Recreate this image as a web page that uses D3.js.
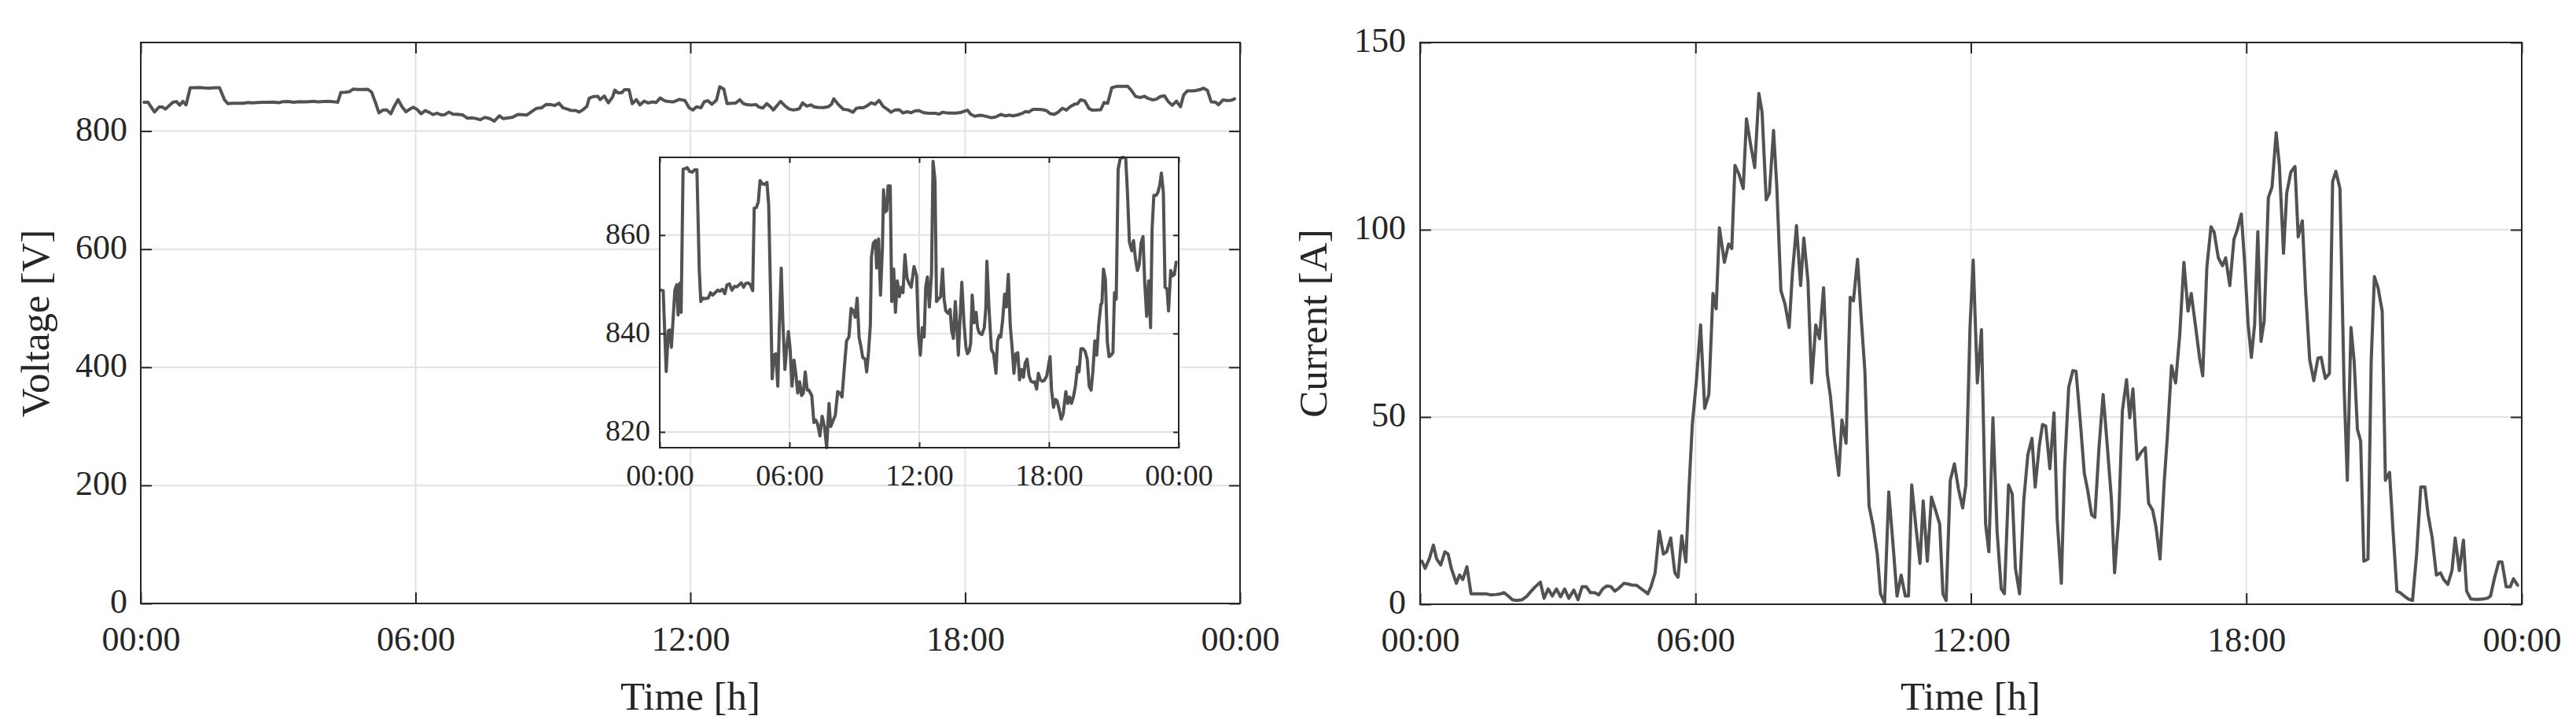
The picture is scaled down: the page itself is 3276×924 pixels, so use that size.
<!DOCTYPE html>
<html>
<head>
<meta charset="utf-8">
<script src="https://cdn.jsdelivr.net/npm/d3@7"></script>
<style>
  html, body { margin: 0; padding: 0; background: #fff; }
  svg { display: block; }
  text { font-family: "Liberation Serif", "DejaVu Serif", serif; fill: #262626; }
</style>
</head>
<body>
<svg id="chart" width="3276" height="924"></svg>
<script>
// ---------------- data ----------------
const timeTicks = [0, 6, 12, 18, 24];
const timeTickLabels = ["00:00", "06:00", "12:00", "18:00", "00:00"];
const voltageTicks = [0, 200, 400, 600, 800];
const voltageInsetTicks = [820, 840, 860];
const currentTicks = [0, 50, 100, 150];
const voltageDomain = [0, 950];
const currentDomain = [0, 150];

const voltageTime = [0.07,0.16,0.30,0.40,0.47,0.54,0.70,0.78,0.85,0.92,
0.99,1.08,1.17,1.27,1.39,1.51,1.62,1.72,1.83,1.90,
2.00,2.12,2.24,2.35,2.45,2.56,2.68,2.78,2.90,3.01,
3.11,3.22,3.34,3.46,3.57,3.67,3.77,3.88,3.98,4.09,
4.19,4.30,4.37,4.47,4.56,4.64,4.75,4.85,4.96,5.04,
5.13,5.20,5.29,5.37,5.46,5.53,5.62,5.70,5.79,5.86,
5.95,6.03,6.12,6.21,6.30,6.38,6.47,6.56,6.64,6.73,
6.82,6.90,7.03,7.13,7.22,7.30,7.41,7.51,7.62,7.72,
7.83,7.91,8.00,8.12,8.23,8.33,8.43,8.54,8.64,8.75,
8.85,8.96,9.04,9.13,9.22,9.30,9.39,9.50,9.57,9.65,
9.74,9.79,9.88,9.98,10.03,10.12,10.21,10.30,10.35,10.42,
10.50,10.56,10.66,10.73,10.82,10.90,10.99,11.08,11.17,11.25,
11.34,11.44,11.53,11.63,11.76,11.88,11.97,12.05,12.14,12.23,
12.30,12.38,12.47,12.57,12.64,12.73,12.80,12.89,12.99,13.08,
13.15,13.23,13.34,13.43,13.50,13.58,13.67,13.74,13.81,13.88,
13.97,14.07,14.16,14.23,14.31,14.38,14.45,14.54,14.63,14.70,
14.78,14.90,15.01,15.08,15.13,15.23,15.34,15.44,15.55,15.62,
15.70,15.77,15.86,15.95,16.03,16.12,16.21,16.30,16.38,16.47,
16.56,16.64,16.73,16.82,16.90,16.99,17.08,17.17,17.25,17.34,
17.43,17.51,17.60,17.69,17.79,17.90,17.98,18.05,18.12,18.21,
18.30,18.38,18.49,18.57,18.66,18.78,18.87,18.96,19.04,19.13,
19.23,19.32,19.39,19.48,19.58,19.67,19.77,19.86,19.95,20.03,
20.12,20.21,20.30,20.40,20.45,20.52,20.61,20.70,20.78,20.87,
20.96,21.03,21.11,21.20,21.30,21.44,21.55,21.63,21.72,21.83,
21.91,22.00,22.09,22.17,22.26,22.35,22.43,22.52,22.61,22.70,
22.77,22.85,22.96,23.04,23.13,23.20,23.29,23.37,23.46,23.53,
23.63,23.71,23.80,23.88];

const voltageValues = [848.8,848.7,832.3,840.6,840.7,837.2,848.8,849.9,843.8,850.2,
844.3,873.4,873.5,873.7,872.9,872.8,873.3,873.3,852.8,846.5,
847.2,847.1,847.2,848.3,847.8,848.3,848.8,848.6,849.0,848.1,
849.9,850.1,848.8,849.6,849.5,849.9,850.3,849.4,850.2,850.3,
849.9,848.7,865.5,865.6,866.8,871.1,870.4,870.3,870.7,866.0,
847.0,830.8,835.6,835.9,829.3,841.2,853.3,841.7,832.7,836.4,
840.4,836.9,829.3,834.6,831.6,827.9,830.2,827.4,827.9,832.2,
828.5,828.5,827.4,821.9,822.4,821.6,819.2,823.2,821.1,816.8,
825.8,821.1,822.1,823.4,828.2,827.9,827.1,833.2,838.5,839.3,
845.1,844.6,843.3,847.2,839.2,837.5,835.1,834.8,832.2,835.9,
841.7,855.5,858.4,858.9,853.3,859.2,847.8,857.6,869.2,864.7,
865.0,870.0,870.0,846.5,853.1,844.3,850.7,847.5,849.4,848.3,
856.0,851.2,850.2,849.4,853.6,851.7,839.6,835.6,841.2,839.3,
849.4,851.5,845.4,852.3,875.0,871.1,846.5,847.0,847.5,853.1,
847.0,844.6,844.1,844.9,840.6,839.0,846.5,841.7,835.6,842.2,
850.4,842.2,837.2,835.9,836.4,838.0,847.8,842.2,844.3,841.2,
840.1,839.8,841.2,845.1,854.7,844.9,836.7,835.9,831.9,838.5,
839.6,839.3,842.8,848.0,845.4,852.0,841.7,836.9,831.9,835.9,
836.1,830.6,832.7,831.1,834.0,834.8,831.4,830.3,830.1,830.2,
828.7,831.9,830.6,830.3,830.5,831.4,833.5,835.3,828.5,825.0,
826.6,826.3,824.2,822.6,823.7,828.2,825.8,827.1,825.8,827.1,
829.5,833.2,832.2,836.9,836.9,836.4,834.8,829.3,828.5,832.2,
838.5,835.6,841.7,845.9,846.2,853.1,851.0,838.3,835.3,835.6,
836.1,848.3,847.0,873.4,875.6,875.8,875.6,868.7,858.6,856.8,
858.9,855.2,852.8,853.9,858.4,859.7,850.2,843.5,850.7,841.2,
861.3,868.1,868.1,868.7,870.3,872.6,868.7,849.4,849.1,844.6,
852.8,851.7,852.0,854.5];

const currentTime = [0.04,0.11,0.20,0.29,0.36,0.45,0.54,0.61,0.68,0.79,
0.86,0.93,1.02,1.11,1.22,1.34,1.43,1.54,1.65,1.76,
1.83,1.92,2.01,2.11,2.22,2.33,2.42,2.51,2.62,2.70,
2.79,2.88,2.97,3.06,3.15,3.24,3.35,3.44,3.53,3.62,
3.71,3.80,3.89,3.98,4.07,4.16,4.24,4.33,4.44,4.53,
4.62,4.71,4.80,4.89,4.96,5.03,5.12,5.21,5.30,5.37,
5.46,5.55,5.62,5.70,5.79,5.86,5.93,6.02,6.11,6.20,
6.29,6.38,6.45,6.52,6.63,6.72,6.79,6.86,6.95,7.04,
7.11,7.20,7.29,7.38,7.45,7.54,7.61,7.70,7.77,7.86,
7.95,8.04,8.11,8.20,8.29,8.36,8.45,8.53,8.62,8.70,
8.79,8.87,8.94,9.03,9.12,9.19,9.28,9.37,9.44,9.53,
9.62,9.69,9.78,9.87,9.96,10.03,10.12,10.21,10.30,10.39,
10.48,10.57,10.64,10.71,10.80,10.89,10.96,11.05,11.14,11.23,
11.32,11.39,11.46,11.55,11.64,11.73,11.82,11.89,11.98,12.05,
12.14,12.23,12.32,12.39,12.48,12.57,12.66,12.73,12.82,12.90,
12.97,13.06,13.15,13.24,13.33,13.40,13.49,13.56,13.63,13.72,
13.81,13.88,13.97,14.04,14.13,14.22,14.29,14.38,14.47,14.54,
14.63,14.70,14.79,14.88,14.97,15.06,15.13,15.22,15.30,15.39,
15.46,15.53,15.62,15.71,15.80,15.87,15.96,16.03,16.12,16.21,
16.28,16.37,16.46,16.55,16.64,16.73,16.80,16.89,16.98,17.05,
17.14,17.23,17.30,17.39,17.48,17.55,17.64,17.73,17.80,17.89,
17.96,18.04,18.11,18.18,18.25,18.32,18.39,18.48,18.56,18.65,
18.72,18.81,18.88,18.97,19.06,19.13,19.22,19.29,19.38,19.47,
19.56,19.63,19.72,19.81,19.88,19.95,20.04,20.13,20.20,20.28,
20.35,20.42,20.49,20.56,20.65,20.72,20.79,20.87,20.96,21.03,
21.12,21.19,21.28,21.35,21.44,21.53,21.62,21.71,21.80,21.89,
21.96,22.05,22.14,22.23,22.30,22.39,22.48,22.55,22.64,22.73,
22.80,22.89,22.98,23.07,23.16,23.25,23.32,23.41,23.50,23.57,
23.66,23.75,23.82,23.91];

const currentValues = [11.5,9.6,12.1,15.8,12.1,10.5,14.0,13.4,9.6,5.6,
7.8,6.6,10.0,2.8,2.8,2.8,2.8,2.5,2.6,2.8,
3.1,2.2,1.2,1.0,1.2,2.2,3.5,4.7,5.9,1.6,
4.1,2.2,4.1,2.0,4.1,1.6,3.8,1.2,4.7,4.7,
3.1,3.1,2.5,4.1,4.9,4.7,3.5,4.3,5.6,5.4,
5.1,5.1,4.3,3.5,2.8,4.7,8.4,19.5,13.4,14.0,
17.7,8.4,7.2,18.3,11.3,31.3,48.0,59.7,74.6,52.3,
56.0,83.0,78.9,100.5,91.3,96.2,95.0,117.2,114.7,111.0,
129.6,122.8,116.6,136.4,131.4,108.0,109.8,126.5,111.7,83.8,
80.1,73.9,88.2,101.1,85.1,97.8,86.3,59.1,74.6,70.9,
84.5,61.6,55.4,43.6,34.4,49.2,43.0,82.0,81.0,92.1,
74.6,62.2,26.3,20.8,13.4,2.8,0.4,30.0,16.4,2.2,
7.8,2.2,2.2,31.9,20.8,10.9,27.6,11.5,28.6,25.1,
21.4,2.8,1.0,33.1,37.5,30.7,25.7,31.9,73.9,91.9,
59.1,73.3,21.4,14.0,49.8,19.5,4.1,2.8,31.9,29.4,
9.6,2.8,27.6,39.9,44.3,31.3,42.4,48.0,47.6,36.2,
51.1,22.6,5.6,36.2,57.9,62.4,62.2,49.2,35.0,30.7,
23.9,23.2,41.8,56.0,42.4,28.2,8.4,23.2,51.7,60.0,
49.8,57.5,38.7,40.6,41.8,27.0,25.1,20.8,12.1,32.5,
44.9,63.7,59.1,72.1,91.3,78.3,83.0,74.6,65.9,61.0,
90.0,100.8,99.3,92.5,90.4,92.5,85.1,97.4,99.9,104.2,
91.9,74.6,65.9,74.6,99.5,70.2,75.8,108.6,111.4,125.9,
117.2,93.7,109.8,115.4,116.9,98.1,102.4,83.8,65.3,59.7,
65.7,65.9,60.3,61.6,112.9,115.6,111.0,57.9,33.1,73.9,
64.7,46.7,43.6,11.5,12.1,64.7,87.5,84.5,78.3,33.1,
35.2,20.8,3.5,3.1,2.2,1.4,1.0,13.4,31.3,31.3,
23.9,17.7,7.8,8.4,6.6,5.3,9.0,17.7,9.0,17.1,
3.5,1.4,1.3,1.3,1.4,1.6,2.2,7.2,11.3,11.3,
4.7,4.7,6.8,5.1];

// ---------------- drawing ----------------
const svg = d3.select("#chart");
const AXIS = "#262626", GRID = "#e2e2e2", LINE = "#525252";

function zipSeries(ts, vs) {
  const n = Math.min(ts.length, vs.length);
  return d3.range(n).map(i => ({ t: ts[i], v: vs[i] }));
}

function panel(cfg) {
  const { left, top, width, height, xDomain, yDomain, yTicks, tickLen,
          fontSize, xPad, yPad, data, lineWidth } = cfg;
  const g = svg.append("g").attr("transform", `translate(${left},${top})`);
  const x = d3.scaleLinear().domain(xDomain).range([0, width]);
  const y = d3.scaleLinear().domain(yDomain).range([height, 0]);

  g.append("rect").attr("width", width).attr("height", height).attr("fill", "#fff");

  // grid
  g.append("g").selectAll("line").data(timeTicks.slice(1, -1)).join("line")
    .attr("x1", d => x(d)).attr("x2", d => x(d)).attr("y1", 0).attr("y2", height)
    .attr("stroke", GRID).attr("stroke-width", 2);
  g.append("g").selectAll("line").data(yTicks.filter(d => y(d) > 1 && y(d) < height - 1)).join("line")
    .attr("x1", 0).attr("x2", width).attr("y1", d => y(d)).attr("y2", d => y(d))
    .attr("stroke", GRID).attr("stroke-width", 2);

  // data line
  const line = d3.line().x(d => x(d.t)).y(d => y(d.v));
  g.append("path").datum(data).attr("d", line)
    .attr("fill", "none").attr("stroke", LINE).attr("stroke-width", lineWidth)
    .attr("stroke-linejoin", "round").attr("stroke-linecap", "round");

  const fmt = (d, i) => timeTickLabels[i];
  const style = sel => {
    sel.select(".domain").remove();
    sel.selectAll(".tick line").attr("stroke", AXIS).attr("stroke-width", 2);
    sel.selectAll("text").attr("font-size", fontSize).attr("fill", "#262626")
      .attr("font-family", '"Liberation Serif", "DejaVu Serif", serif');
  };

  g.append("g").attr("transform", `translate(0,${height})`)
    .call(d3.axisBottom(x).tickValues(timeTicks).tickFormat(fmt).tickSize(-tickLen).tickSizeOuter(0).tickPadding(xPad))
    .call(style);
  g.append("g")
    .call(d3.axisTop(x).tickValues(timeTicks).tickFormat("").tickSize(-tickLen).tickSizeOuter(0))
    .call(style);
  g.append("g")
    .call(d3.axisLeft(y).tickValues(yTicks).tickFormat(d3.format("d")).tickSize(-tickLen).tickSizeOuter(0).tickPadding(yPad))
    .call(style)
    .call(s => s.selectAll("text").attr("dy", "0.27em"));
  g.append("g").attr("transform", `translate(${width},0)`)
    .call(d3.axisRight(y).tickValues(yTicks).tickFormat("").tickSize(-tickLen).tickSizeOuter(0))
    .call(style);

  // frame
  g.append("rect").attr("width", width).attr("height", height)
    .attr("fill", "none").attr("stroke", AXIS).attr("stroke-width", 2);
  return { g, x, y };
}

function labels(cx, cy, baselineX, xBaseline, ylab) {
  svg.append("text").attr("x", cx).attr("y", xBaseline).attr("text-anchor", "middle")
    .attr("font-size", 51).text("Time [h]");
  svg.append("text").attr("transform", `translate(${baselineX},${cy}) rotate(-90)`)
    .attr("text-anchor", "middle").attr("font-size", 51).text(ylab);
}

const voltageData = zipSeries(voltageTime, voltageValues);
const currentData = zipSeries(currentTime, currentValues);

// left: voltage
panel({ left: 179, top: 54, width: 1398, height: 713, xDomain: [0, 24], yDomain: voltageDomain,
        yTicks: voltageTicks, tickLen: 14, fontSize: 44, xPad: 29, yPad: 17,
        data: voltageData, lineWidth: 4 });
labels(878, 411, 62, 902, "Voltage [V]");

// inset
panel({ left: 839, top: 200, width: 660, height: 369, xDomain: [0, 24],
        yDomain: d3.extent(voltageValues), yTicks: voltageInsetTicks, tickLen: 7,
        fontSize: 38, xPad: 21, yPad: 12, data: voltageData, lineWidth: 4 });

// right: current
panel({ left: 1806, top: 54, width: 1401, height: 714, xDomain: [0, 24], yDomain: currentDomain,
        yTicks: currentTicks, tickLen: 14, fontSize: 44, xPad: 29, yPad: 18,
        data: currentData, lineWidth: 4 });
labels(2506, 411, 1687, 902, "Current [A]");
</script>
</body>
</html>
